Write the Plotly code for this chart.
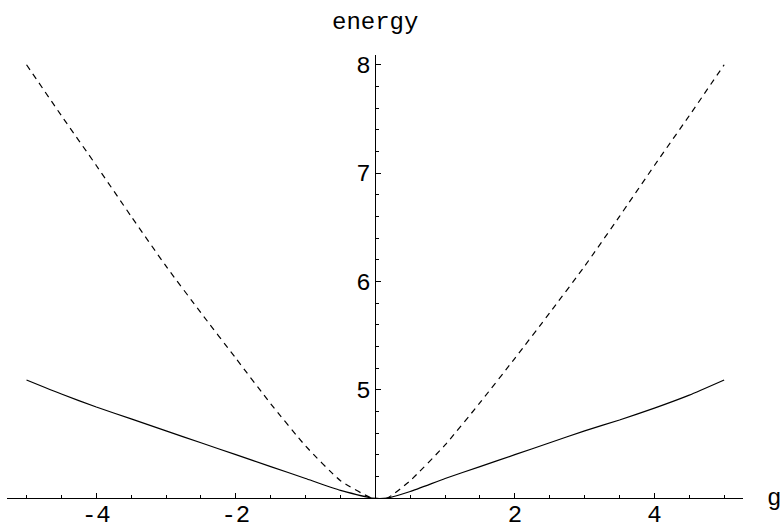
import plotly.graph_objects as go

# coupling g and the two energy curves
g = [-5, -4.5, -4, -3.5, -3, -2.5, -2, -1.5, -1, -0.5, -0.05,
     0.17, 0.5, 1, 1.5, 2, 2.5, 3, 3.5, 4, 4.5, 5]
energy_solid = [5.09, 4.96, 4.84, 4.73, 4.62, 4.51, 4.40, 4.29, 4.18, 4.07, 4.0,
                4.0, 4.06, 4.18, 4.29, 4.40, 4.51, 4.62, 4.72, 4.83, 4.95, 5.09]
energy_dashed = [8.0, 7.53, 7.07, 6.6, 6.14, 5.71, 5.29, 4.87, 4.48, 4.16, 4.0,
                 4.0, 4.16, 4.49, 4.88, 5.29, 5.71, 6.14, 6.6, 7.07, 7.53, 8.0]

x_ticks = [-4, -2, 2, 4]
x_labels = ["-4", "-2", "2", "4"]
y_ticks = [5, 6, 7, 8]
y_labels = ["5", "6", "7", "8"]

font = dict(family="Liberation Mono, Courier New, monospace", size=24, color="black")

fig = go.Figure()
fig.add_trace(go.Scatter(x=g, y=energy_solid, mode="lines",
                         line=dict(color="black", width=1.2, shape="spline", smoothing=0.5)))
fig.add_trace(go.Scatter(x=g, y=energy_dashed, mode="lines",
                         line=dict(color="black", width=1.2, dash="6px,5px",
                                   shape="spline", smoothing=0.5)))

xr = [-5.28, 5.27]
fig.update_layout(
    width=783, height=529,
    margin=dict(l=7, r=40, t=55, b=31),
    paper_bgcolor="white", plot_bgcolor="white",
    showlegend=False,
    font=font,
    xaxis=dict(range=xr, showgrid=False, zeroline=False, automargin=False,
               showline=True, linecolor="black", linewidth=1,
               tickvals=x_ticks, ticktext=x_labels,
               ticks="inside", ticklen=5, tickcolor="black", tickwidth=1,
               ticklabelstandoff=-6,
               minor=dict(dtick=0.5, tick0=0, ticks="inside", ticklen=3,
                          tickcolor="black", tickwidth=1),
               tickfont=font),
    yaxis=dict(range=[4, 8.09], showgrid=False, zeroline=False, automargin=False,
               anchor="free", position=(0 - xr[0]) / (xr[1] - xr[0]),
               showline=True, linecolor="black", linewidth=1,
               tickvals=y_ticks, ticktext=y_labels,
               ticks="inside", ticklen=5, tickcolor="black", tickwidth=1,
               minor=dict(dtick=0.2, tick0=0, ticks="inside", ticklen=3,
                          tickcolor="black", tickwidth=1),
               tickfont=font),
)

fig.add_annotation(text="energy", x=0, xref="x",
                   y=1 + (55 - 23) / 443.0, yref="paper", yanchor="middle",
                   showarrow=False, font=font)
fig.add_annotation(text="g", xref="paper", x=1 + (774 - 743) / 736.0,
                   yref="y", y=4, showarrow=False, font=font,
                   xanchor="center", yanchor="middle")

# drop the page's default body margin so the figure fills the window
fig.write_html("out.html", config={"displayModeBar": False},
               post_script="document.body.style.margin='0';")
